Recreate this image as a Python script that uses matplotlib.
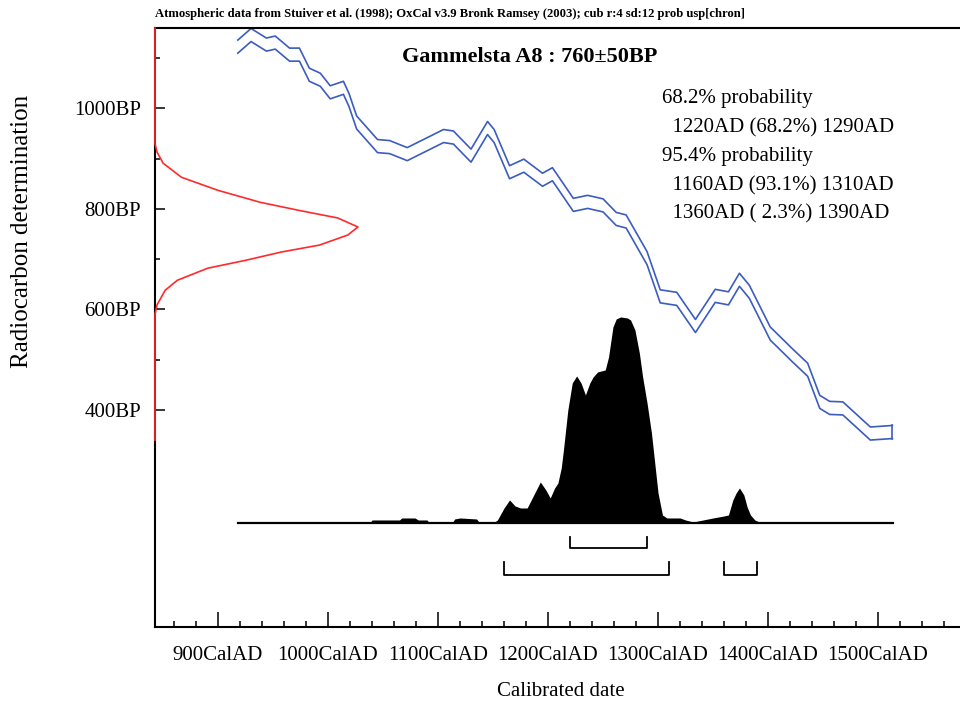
import matplotlib
matplotlib.use('Agg')
import matplotlib.pyplot as plt
from matplotlib.ticker import FixedLocator

plt.rcParams['font.family'] = ['Liberation Serif', 'DejaVu Serif']

####################################
# OxCal style calibration plot for sample Gammelsta A8 (760 +/- 50 BP)

sample_name = 'Gammelsta A8'
c14_age = 760
c14_err = 50

# calibration curve (mean BP and half width)
cal_years = [918, 930, 944, 952, 965, 974, 983, 993, 1002, 1014, 1019, 1026, 1045, 1056,
             1072, 1105, 1114, 1130, 1145, 1151, 1165, 1178, 1195, 1204, 1223, 1236, 1250,
             1262, 1271, 1290, 1302, 1317, 1334, 1352, 1364, 1374, 1383, 1402, 1422, 1436,
             1447, 1456, 1468, 1493, 1513]
cal_bp = [1123, 1146, 1127, 1131, 1107, 1107, 1067, 1057, 1032, 1041, 1017, 972, 925, 923,
          909, 945, 942, 906, 961, 945, 873, 886, 858, 869, 808, 814, 807,
          780, 775, 702, 626, 621, 567, 627, 622, 659, 635, 552, 509, 480,
          416, 404, 403, 353, 356]
cal_err = 13

# measured radiocarbon distribution (relative height)
meas_bp = [340, 590, 609, 638, 658, 682, 698, 714, 728, 748, 764, 782, 797, 813, 837, 863,
           891, 913, 930, 1160]
meas_prob = [0, 0, 0.01, 0.05, 0.11, 0.26, 0.45, 0.62, 0.81, 0.95, 1.0, 0.90, 0.71, 0.52,
             0.31, 0.13, 0.04, 0.01, 0, 0]

# calibrated probability distribution (relative height)
post_years = [918, 1038, 1040, 1065, 1067, 1079, 1082, 1090, 1092, 1113, 1115, 1120, 1135, 1138,
              1150, 1154, 1160, 1165, 1170, 1175, 1181, 1187, 1193, 1198, 1202, 1206, 1209,
              1212, 1214, 1218, 1222, 1226, 1230, 1234, 1238, 1241, 1245, 1252, 1255, 1259,
              1262, 1266, 1272, 1275, 1279, 1283, 1286, 1290, 1294, 1297, 1300, 1304, 1308,
              1320, 1325, 1332, 1341, 1350, 1360, 1364, 1368, 1371, 1374, 1378, 1381, 1384,
              1388, 1394, 1514]
post_px = [0, 0, 3, 3, 5, 5, 3, 3, 0, 0, 4, 5, 4, 0,
           0, 3, 15, 23, 17, 15, 15, 28, 41, 33, 25, 35, 40,
           55, 73, 113, 140, 147, 140, 128, 140, 146, 151, 153, 166, 196,
           204, 206, 205, 203, 193, 170, 146, 120, 90, 60, 30, 8, 5,
           5, 3, 1, 3, 5, 7, 8, 23, 30, 35, 28, 16, 8,
           3, 0, 0]
post_prob = [p / 206 for p in post_px]

# ranges
ranges_68 = [(1220, 1290)]
ranges_95 = [(1160, 1310), (1360, 1390)]
range_lines = ['68.2% probability', '  1220AD (68.2%) 1290AD', '95.4% probability',
               '  1160AD (93.1%) 1310AD', '  1360AD ( 2.3%) 1390AD']

x_major = [900, 1000, 1100, 1200, 1300, 1400, 1500]
y_major = [400, 600, 800, 1000]
y_minor = [500, 700, 900, 1100]

####################################

W, H = 960, 709
fig = plt.figure(figsize=(W / 100, H / 100), dpi=100)
ax = fig.add_axes([155 / W, 82 / H, (W - 155) / W, 599 / H])

xmin, xmax = 842.7, 1574.5
ymin, ymax = -32, 1160
ax.set_xlim(xmin, xmax)
ax.set_ylim(ymin, ymax)

# calibration curve band edges
upper = [b + cal_err for b in cal_bp]
lower = [b - cal_err for b in cal_bp]
ax.plot(cal_years, upper, color='#3b5cc0', lw=1.2)
ax.plot(cal_years, lower, color='#3b5cc0', lw=1.2)
ax.plot([cal_years[-1]] * 2, [lower[-1], upper[-1]], color='#3b5cc0', lw=1.2)

# measured date on the y axis
red_amp = 184.5
ax.plot([xmin + p * red_amp for p in meas_prob], meas_bp, color='#ff2a2a', lw=1.2,
        clip_on=False, zorder=5)

# calibrated distribution
hist_base = 175
hist_height = 410
ax.fill_between(post_years, hist_base, [hist_base + p * hist_height for p in post_prob],
                color='black', lw=0)
ax.plot([post_years[0], post_years[-1]], [hist_base, hist_base], color='black', lw=1.6)

# range brackets
def bracket(r, y, h):
    ax.plot([r[0], r[0], r[1], r[1]], [y + h, y, y, y + h], color='black', lw=1.3)

for r in ranges_68:
    bracket(r, 126, 22)
for r in ranges_95:
    bracket(r, 72, 26)

# axes styling
for s in ['left', 'bottom', 'top']:
    ax.spines[s].set_linewidth(1.5)
ax.spines['right'].set_visible(False)

ax.set_xticks(x_major)
ax.set_xticklabels([f'{y}CalAD' for y in x_major])
ax.xaxis.set_minor_locator(FixedLocator([y for y in range(860, 1580, 20) if y % 100]))
ax.set_yticks(y_major)
ax.set_yticklabels([f'{y}BP' for y in y_major])
ax.yaxis.set_minor_locator(FixedLocator(y_minor))

ax.tick_params(axis='x', which='major', direction='in', length=10.5, width=1.1,
               labelsize=15, pad=14)
ax.tick_params(axis='x', which='minor', direction='in', length=4.3, width=1.1)
ax.tick_params(axis='y', which='major', direction='in', length=7.2, width=1.1,
               labelsize=15, pad=10)
ax.tick_params(axis='y', which='minor', direction='in', length=3.6, width=1.1)

# texts
fig.text(155 / W, 1 - 14 / H,
         'Atmospheric data from Stuiver et al. (1998); OxCal v3.9 Bronk Ramsey (2003); '
         'cub r:4 sd:12 prob usp[chron]',
         fontsize=9.1, fontweight='bold', ha='left', va='center')
fig.text(530 / W, 1 - 57 / H, f'{sample_name} : {c14_age}\u00b1{c14_err}BP',
         fontsize=16, fontweight='bold', ha='center', va='center')

line_y = [99, 128, 157, 186, 214]
for txt, yy in zip(range_lines, line_y):
    fig.text(662 / W, 1 - yy / H, txt, fontsize=15, ha='left', va='center')

fig.text(22 / W, 1 - 231 / H, 'Radiocarbon determination', fontsize=18,
         rotation=90, ha='center', va='center')
fig.text(561 / W, 1 - 692 / H, 'Calibrated date', fontsize=15, ha='center', va='center')

fig.savefig('out.png', dpi=100)
